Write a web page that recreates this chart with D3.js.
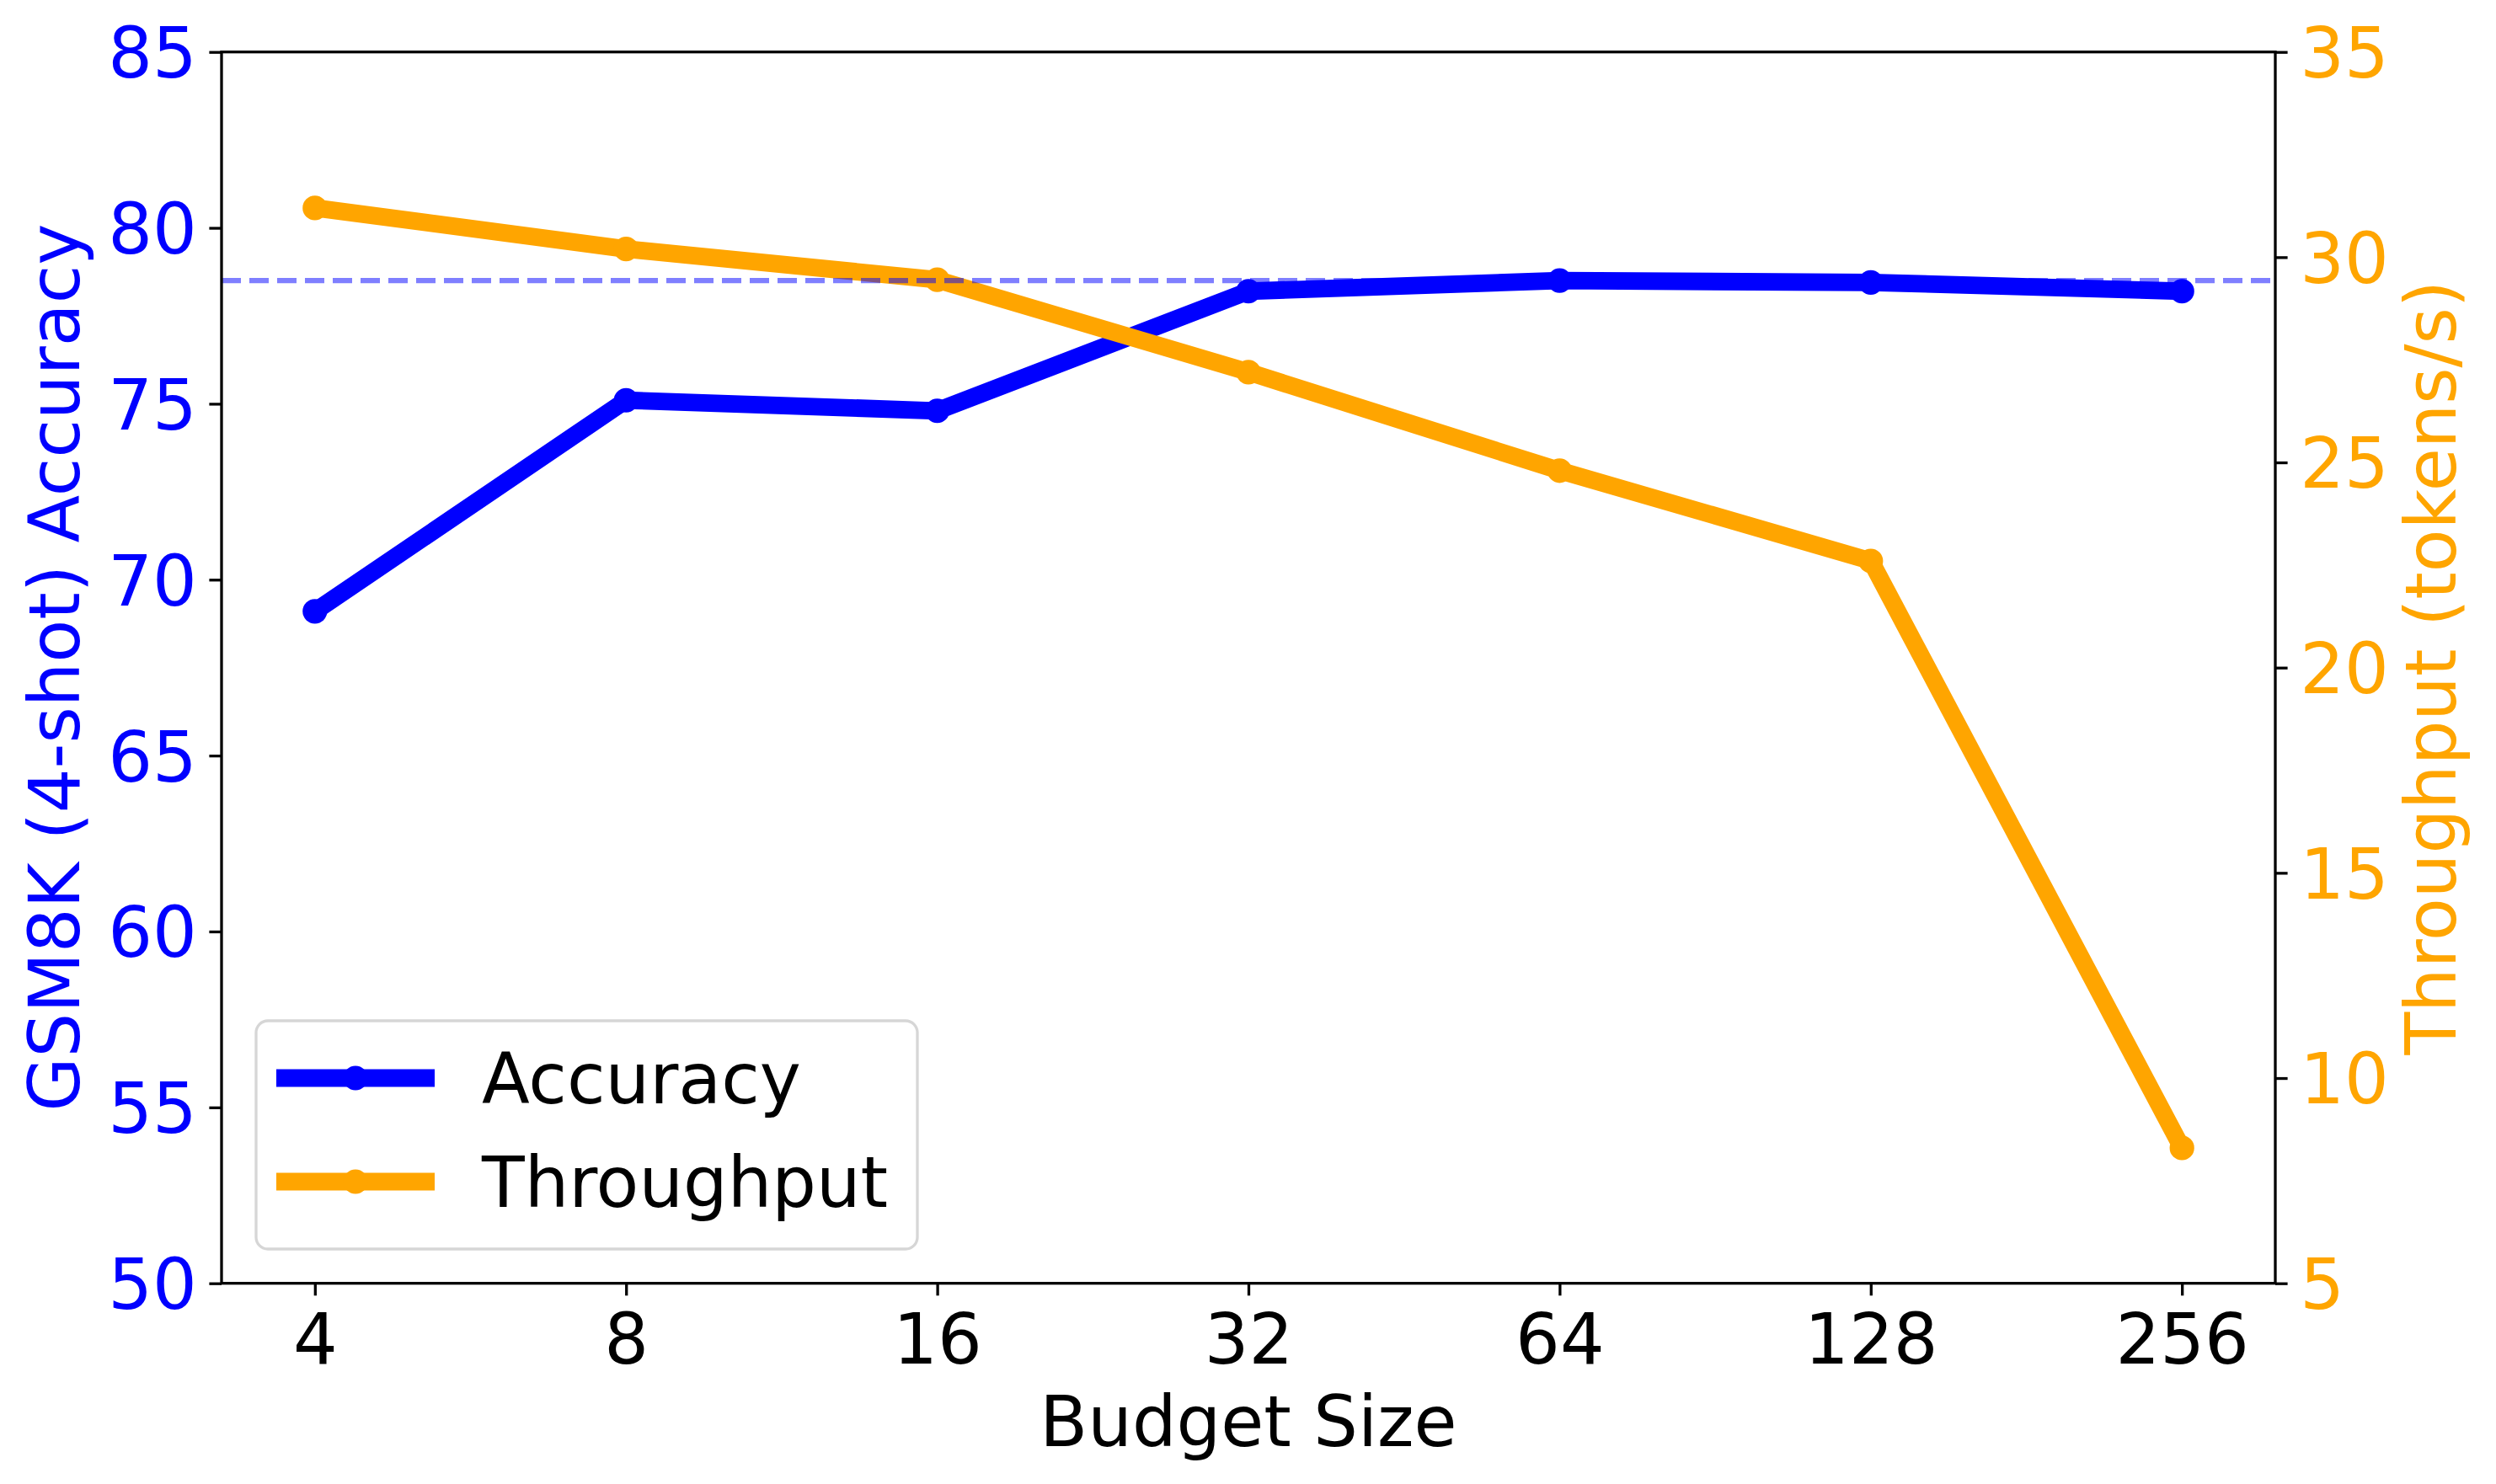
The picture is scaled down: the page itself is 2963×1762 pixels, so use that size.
<!DOCTYPE html>
<html>
<head>
<meta charset="utf-8">
<script src="https://cdn.jsdelivr.net/npm/d3@7"></script>
<style>
  html, body { margin: 0; padding: 0; background: #ffffff; }
  svg { display: block; }
  text { font-family: "DejaVu Sans", sans-serif; }
</style>
</head>
<body>
<svg id="chart" width="2963" height="1762"></svg>
<script>
// ---- data ----
const budgets = ["4", "8", "16", "32", "64", "128", "256"];
const accuracy = [69.1, 75.1, 74.8, 78.2, 78.5, 78.45, 78.2];
const throughput = [31.2, 30.2, 29.45, 27.2, 24.8, 22.6, 8.3];
const baselineAccuracy = 78.5;
const leftTicks = [50, 55, 60, 65, 70, 75, 80, 85];
const rightTicks = [5, 10, 15, 20, 25, 30, 35];
const seriesNames = ["Accuracy", "Throughput"];

// ---- layout ----
const W = 2963, H = 1762;
const L = 263, R = 2701, T = 61.7, B = 1523.7;
const FS = 83;
const BLUE = "#0000ff", ORANGE = "#ffa500";
const LW = 20.8, MR = 14.6, TICK = 14.6, SPW = 3.3;

const svg = d3.select("#chart");
svg.append("rect").attr("width", W).attr("height", H).attr("fill", "#fff");

const x = d3.scaleLinear().domain([-0.3, budgets.length - 1 + 0.3]).range([L, R]);
const yL = d3.scaleLinear().domain([50, 85]).range([B, T]);
const yR = d3.scaleLinear().domain([5, 35]).range([B, T]);

// ---- lines ----
const lineL = d3.line().x((d, i) => x(i)).y(d => yL(d));
const lineR = d3.line().x((d, i) => x(i)).y(d => yR(d));

const plot = svg.append("g");
plot.append("path").datum(accuracy).attr("d", lineL)
  .attr("fill", "none").attr("stroke", BLUE).attr("stroke-width", LW)
  .attr("stroke-linejoin", "round").attr("stroke-linecap", "butt");
plot.selectAll(".mAcc").data(accuracy).enter().append("circle")
  .attr("cx", (d, i) => x(i)).attr("cy", d => yL(d)).attr("r", MR).attr("fill", BLUE);

plot.append("path").datum(throughput).attr("d", lineR)
  .attr("fill", "none").attr("stroke", ORANGE).attr("stroke-width", LW)
  .attr("stroke-linejoin", "round").attr("stroke-linecap", "butt");
plot.selectAll(".mThr").data(throughput).enter().append("circle")
  .attr("cx", (d, i) => x(i)).attr("cy", d => yR(d)).attr("r", MR).attr("fill", ORANGE);

// baseline dashed
plot.append("line")
  .attr("x1", L).attr("x2", R)
  .attr("y1", yL(baselineAccuracy)).attr("y2", yL(baselineAccuracy))
  .attr("stroke", "rgba(0,0,255,0.5)").attr("stroke-width", 6.2)
  .attr("stroke-dasharray", "23,10");

// ---- axes ----
function styleAxis(g, color) {
  g.select(".domain").remove();
  g.selectAll(".tick line").attr("stroke", "#000").attr("stroke-width", SPW);
  g.selectAll(".tick text").attr("fill", color)
    .style("font-family", "'DejaVu Sans', sans-serif").style("font-size", FS + "px");
}

const gx = svg.append("g").attr("transform", `translate(0,${B})`)
  .call(d3.axisBottom(x).tickValues(d3.range(budgets.length))
    .tickFormat(i => budgets[i]).tickSize(TICK).tickPadding(22));
styleAxis(gx, "#000");

const gl = svg.append("g").attr("transform", `translate(${L},0)`)
  .call(d3.axisLeft(yL).tickValues(leftTicks).tickFormat(d3.format("d"))
    .tickSize(TICK).tickPadding(14.6));
styleAxis(gl, BLUE);
gl.selectAll(".tick text").attr("dy", "0.36em");

const gr = svg.append("g").attr("transform", `translate(${R},0)`)
  .call(d3.axisRight(yR).tickValues(rightTicks).tickFormat(d3.format("d"))
    .tickSize(TICK).tickPadding(14.6));
styleAxis(gr, ORANGE);
gr.selectAll(".tick text").attr("dy", "0.36em");

// spines
svg.append("rect").attr("x", L).attr("y", T).attr("width", R - L).attr("height", B - T)
  .attr("fill", "none").attr("stroke", "#000").attr("stroke-width", SPW);

// ---- axis labels ----
svg.append("text").attr("x", (L + R) / 2).attr("y", 1716.7)
  .attr("text-anchor", "middle").attr("font-size", FS).attr("fill", "#000")
  .text("Budget Size");
svg.append("text").attr("transform", `translate(94,${(T + B) / 2}) rotate(-90)`)
  .attr("text-anchor", "middle").attr("font-size", FS).attr("fill", BLUE)
  .text("GSM8K (4-shot) Accuracy");
svg.append("text").attr("transform", `translate(2915,${(T + B) / 2}) rotate(-90)`)
  .attr("text-anchor", "middle").attr("font-size", FS).attr("fill", ORANGE)
  .text("Throughput (tokens/s)");

// ---- legend ----
const lg = svg.append("g");
lg.append("rect").attr("x", 304).attr("y", 1212).attr("width", 785).attr("height", 271)
  .attr("rx", 14).attr("ry", 14)
  .attr("fill", "rgba(255,255,255,0.8)").attr("stroke", "#d6d6d6").attr("stroke-width", 3.3);
const legendItems = [
  { name: seriesNames[0], color: BLUE, y: 1280 },
  { name: seriesNames[1], color: ORANGE, y: 1403 }
];
legendItems.forEach(it => {
  lg.append("line").attr("x1", 328).attr("x2", 516).attr("y1", it.y).attr("y2", it.y)
    .attr("stroke", it.color).attr("stroke-width", LW);
  lg.append("circle").attr("cx", 422).attr("cy", it.y).attr("r", MR).attr("fill", it.color);
  lg.append("text").attr("x", 572).attr("y", it.y + 30).attr("font-size", FS)
    .attr("fill", "#000").text(it.name);
});
</script>
</body>
</html>
